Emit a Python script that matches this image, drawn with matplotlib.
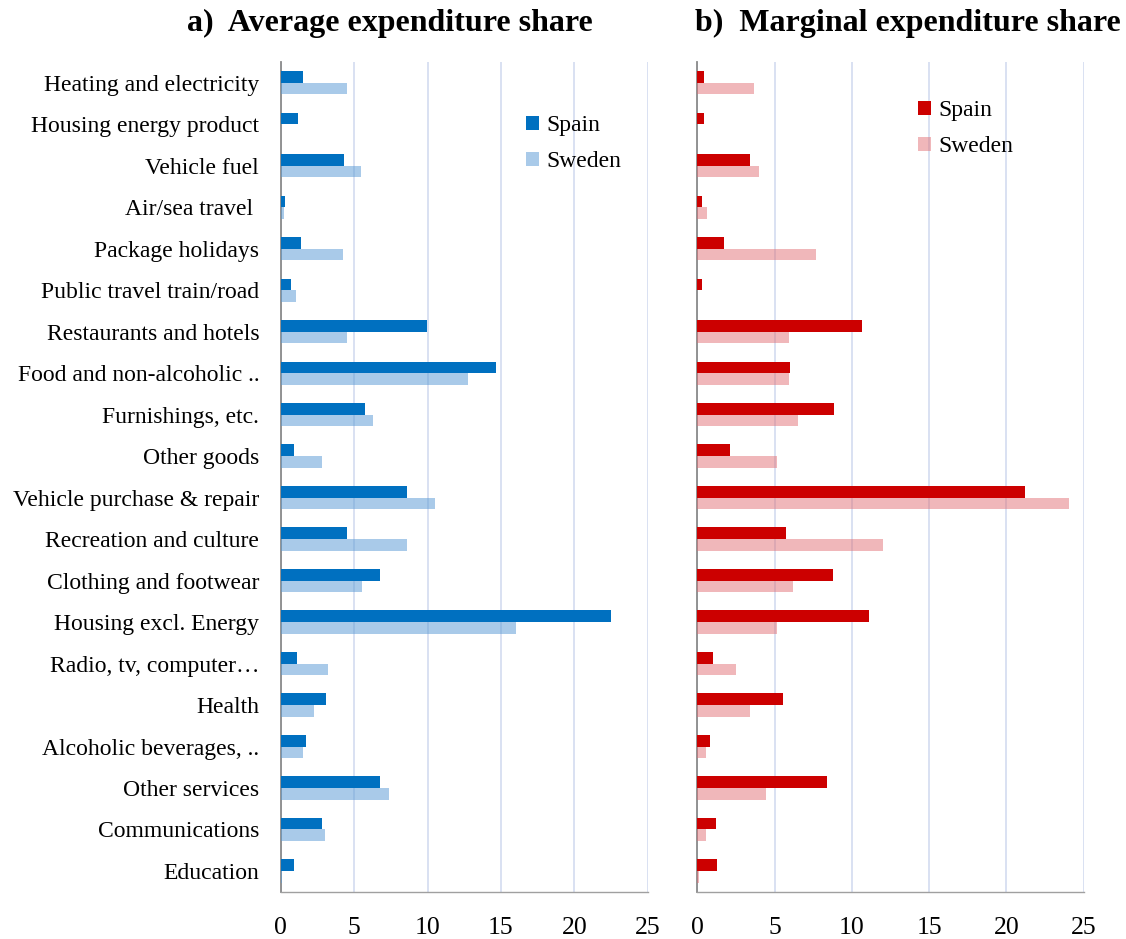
import matplotlib
matplotlib.use("Agg")
import matplotlib.pyplot as plt
import numpy as np
from matplotlib.patches import Patch

categories = [
    "Heating and electricity", "Housing energy product", "Vehicle fuel",
    "Air/sea travel ", "Package holidays", "Public travel train/road",
    "Restaurants and hotels", "Food and non-alcoholic ..", "Furnishings, etc.",
    "Other goods", "Vehicle purchase & repair", "Recreation and culture",
    "Clothing and footwear", "Housing excl. Energy", "Radio, tv, computer\u2026",
    "Health", "Alcoholic beverages, ..", "Other services", "Communications",
    "Education",
]

avg_spain = [1.54, 1.16, 4.31, 0.32, 1.36, 0.72, 9.97, 14.69, 5.77, 0.93,
             8.63, 4.52, 6.79, 22.48, 1.13, 3.09, 1.75, 6.79, 2.79, 0.93]
avg_sweden = [4.54, 0.0, 5.45, 0.20, 4.22, 1.04, 4.54, 12.74, 6.27, 2.79,
              10.49, 8.63, 5.54, 16.0, 3.20, 2.25, 1.54, 7.40, 3.00, 0.10]

marg_spain = [0.43, 0.43, 3.38, 0.32, 1.71, 0.32, 10.63, 6.02, 8.85, 2.10,
              21.21, 5.72, 8.77, 11.13, 1.02, 5.52, 0.82, 8.38, 1.21, 1.30]
marg_sweden = [3.68, 0.0, 3.96, 0.61, 7.68, 0.0, 5.93, 5.93, 6.52, 5.15,
               24.05, 12.0, 6.21, 5.15, 2.49, 3.38, 0.54, 4.46, 0.54, 0.13]

xticks = [0, 5, 10, 15, 20, 25]
titles = ["a)  Average expenditure share", "b)  Marginal expenditure share"]
legend_labels = ["Spain", "Sweden"]

plt.rcParams['font.family'] = ['Liberation Serif', 'DejaVu Serif']

fig = plt.figure(figsize=(11.26, 9.39), dpi=100)
W, H = 1126, 939
bottom_px, top_px = 891.7, 62.0
ax1 = fig.add_axes([280.7 / W, 1 - bottom_px / H, 367.0 / W, (bottom_px - top_px) / H])
ax2 = fig.add_axes([697.3 / W, 1 - bottom_px / H, 386.4 / W, (bottom_px - top_px) / H])

y = np.arange(len(categories))
h = 0.28

def style(ax, spain, sweden, c_spain, c_sweden, a_sweden, show_labels):
    ax.barh(y - h / 2, spain, height=h, color=c_spain, edgecolor='none', zorder=3)
    ax.barh(y + h / 2, sweden, height=h, color=c_sweden, alpha=a_sweden,
            edgecolor='none', zorder=3)
    ax.set_xlim(0, 25)
    ax.set_ylim(len(categories) - 0.5, -0.5)
    ax.set_xticks(xticks)
    ax.set_xticklabels([str(t) for t in xticks])
    ax.set_yticks(y)
    if show_labels:
        ax.set_yticklabels(categories)
    else:
        ax.set_yticklabels([])
    ax.tick_params(axis='both', length=0)
    ax.tick_params(axis='x', pad=18, labelsize=18.5)
    ax.tick_params(axis='y', pad=15.5, labelsize=17)
    ax.grid(axis='x', color='#D3DCF0', linewidth=1.2, zorder=0)
    ax.set_axisbelow(True)
    for s in ['top', 'right']:
        ax.spines[s].set_visible(False)
    ax.spines['left'].set_color('#8A8A8A')
    ax.spines['left'].set_linewidth(1.3)
    ax.spines['bottom'].set_color('#A0A0A0')
    ax.spines['bottom'].set_linewidth(1.0)

style(ax1, avg_spain, avg_sweden, '#0070C0', '#5B9BD5', 0.52, True)
style(ax2, marg_spain, marg_sweden, '#CC0000', '#E06A70', 0.48, False)

def add_legend(ax, c1, c2, a2, x, yv):
    handles = [Patch(facecolor=c1, edgecolor='none'),
               Patch(facecolor=c2, alpha=a2, edgecolor='none')]
    ax.legend(handles, legend_labels, loc='upper left', bbox_to_anchor=(x, yv),
              frameon=False, fontsize=17, handlelength=0.55, handleheight=0.55,
              handletextpad=0.3, labelspacing=0.64, borderpad=0, borderaxespad=0)

add_legend(ax1, '#0070C0', '#5B9BD5', 0.52, 0.668, 0.936)
add_legend(ax2, '#CC0000', '#E06A70', 0.48, 0.571, 0.954)

fig.text(390 / W, 1 - 23 / H, titles[0], ha='center', va='center',
         fontsize=23, fontweight='bold')
fig.text(908 / W, 1 - 23 / H, titles[1], ha='center', va='center',
         fontsize=23, fontweight='bold')

fig.savefig('out.png', dpi=100)
